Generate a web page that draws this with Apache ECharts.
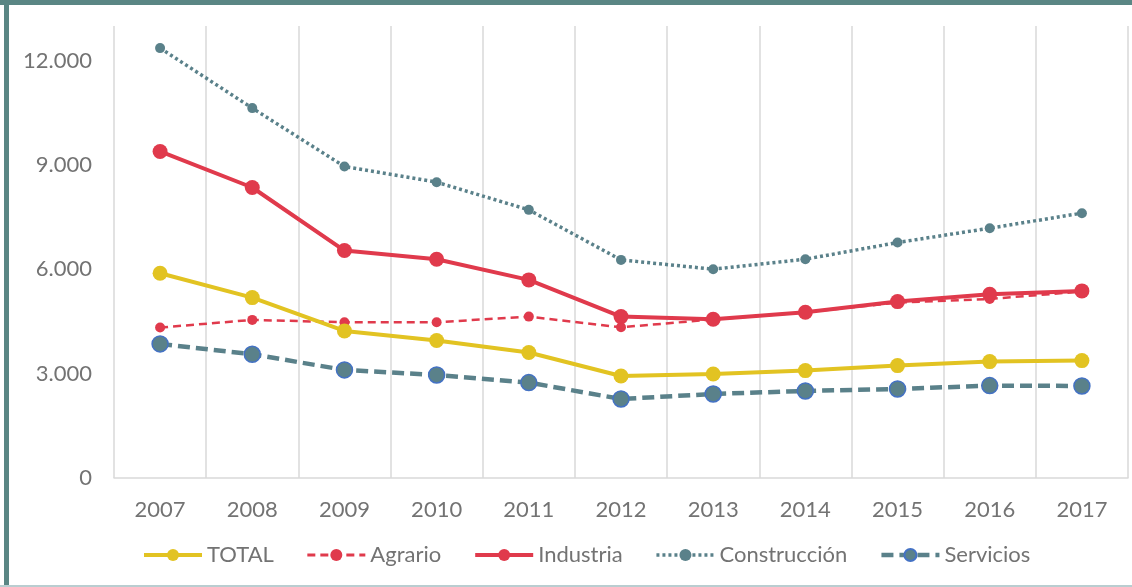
<!DOCTYPE html>
<html>
<head>
<meta charset="utf-8">
<script src="https://cdn.jsdelivr.net/npm/echarts@6/dist/echarts.min.js"></script>
<style>
html,body{margin:0;padding:0;background:#fff;}
#chart{width:1132px;height:587px;}
</style>
</head>
<body>
<div id="chart"></div>
<script>
const years = ['2007','2008','2009','2010','2011','2012','2013','2014','2015','2016','2017'];
const total        = [5890, 5189, 4230, 3955, 3610, 2935, 2993, 3089, 3233, 3348, 3377];
const agrario      = [4326, 4547, 4480, 4480, 4642, 4335, 4560, 4767, 5045, 5150, 5362];
const industria    = [9391, 8355, 6542, 6293, 5698, 4642, 4566, 4767, 5074, 5285, 5381];
const construccion = [12364, 10638, 8959, 8508, 7712, 6273, 6005, 6293, 6772, 7185, 7617];
const servicios    = [3856, 3559, 3108, 2964, 2744, 2273, 2417, 2504, 2561, 2657, 2647];

const FONT = 'Lato';
const TXT = '#737373';
const YELLOW = '#e2c322';
const RED = '#e03a4c';
const TEAL = '#5a818a';
const BLUE = '#4472c4';

const chart = echarts.init(document.getElementById('chart'), null, {renderer:'canvas'});
chart.setOption({
  animation: false,
  textStyle: {fontFamily: FONT},
  grid: {left: 114, right: 4, top: 26, bottom: 109, containLabel: false},
  xAxis: {
    type: 'category',
    data: years,
    boundaryGap: true,
    axisLine: {show: true, lineStyle: {color: '#d9d9d9', width: 1.5}},
    axisTick: {show: false},
    splitLine: {show: true, lineStyle: {color: '#d9d9d9', width: 1.5}},
    axisLabel: {color: TXT, fontSize: 22, fontFamily: FONT, margin: 21}
  },
  yAxis: {
    type: 'value',
    min: 0, max: 13000, interval: 3000,
    axisLine: {show: false},
    axisTick: {show: false},
    splitLine: {show: false},
    axisLabel: {
      color: TXT, fontSize: 22, fontFamily: FONT, margin: 22, showMaxLabel: false,
      formatter: v => v === 0 ? '0' : v.toString().replace(/\B(?=(\d{3})+(?!\d))/g, '.')
    }
  },
  legend: {
    left: 137, top: 539,
    itemWidth: 58, itemHeight: 15, itemGap: 32,
    textStyle: {color: TXT, fontSize: 22, fontFamily: FONT},
    data: [
      {name: 'TOTAL', lineStyle: {width: 4}},
      {name: 'Agrario', lineStyle: {width: 3}},
      {name: 'Industria', lineStyle: {width: 4}},
      {name: 'Construcción', lineStyle: {width: 3.5}},
      {name: 'Servicios', lineStyle: {width: 4.5}}
    ]
  },
  series: [
    {name: 'Construcción', type: 'line', data: construccion, z: 2,
      symbol: 'circle', symbolSize: 10,
      lineStyle: {color: TEAL, width: 3.5, type: [3, 3]},
      itemStyle: {color: TEAL}},
    {name: 'Servicios', type: 'line', data: servicios, z: 3,
      symbol: 'circle', symbolSize: 16,
      lineStyle: {color: TEAL, width: 4.5, type: [12, 6]},
      itemStyle: {color: TEAL, borderColor: BLUE, borderWidth: 1.5}},
    {name: 'Agrario', type: 'line', data: agrario, z: 4,
      symbol: 'circle', symbolSize: 10,
      lineStyle: {color: RED, width: 2.5, type: [8, 5]},
      itemStyle: {color: RED}},
    {name: 'Industria', type: 'line', data: industria, z: 5,
      symbol: 'circle', symbolSize: 15,
      lineStyle: {color: RED, width: 4},
      itemStyle: {color: RED}},
    {name: 'TOTAL', type: 'line', data: total, z: 6,
      symbol: 'circle', symbolSize: 15,
      lineStyle: {color: YELLOW, width: 4},
      itemStyle: {color: YELLOW}}
  ],
  graphic: [
    {type: 'rect', shape: {x: 0, y: 0, width: 1132, height: 5}, style: {fill: '#5a8684'}, silent: true},
    {type: 'rect', shape: {x: 4, y: 0, width: 5, height: 587}, style: {fill: '#5a8684'}, silent: true},
    {type: 'rect', shape: {x: 0, y: 585, width: 1132, height: 2}, style: {fill: '#b9cdd0'}, silent: true}
  ]
});
</script>
</body>
</html>
